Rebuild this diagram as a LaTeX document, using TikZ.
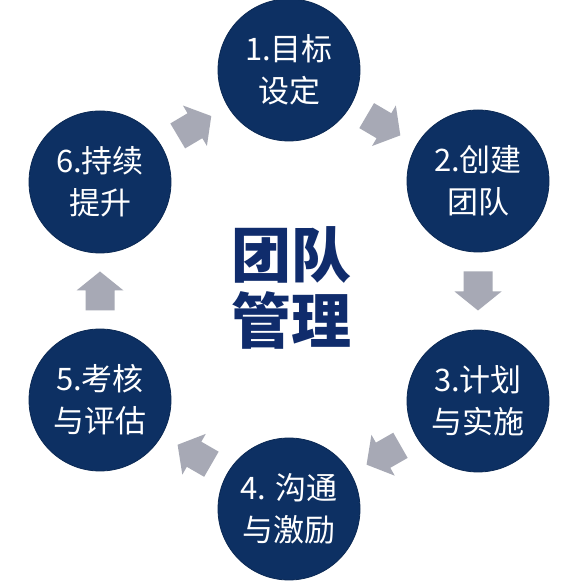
\documentclass[tikz,border=0pt]{standalone}
\usepackage{fontspec}
\usetikzlibrary{calc}
\newfontfamily\cjk{Noto Sans CJK SC}
\definecolor{navy}{RGB}{13,48,99}
\definecolor{titlenavy}{RGB}{16,44,108}
\definecolor{arrowgray}{RGB}{167,169,181}
\tikzset{
  stepcircle/.style={circle, fill=navy, draw=navy!85!black, line width=0.8pt,
    minimum size=142pt, inner sep=0pt, text=white, align=center,
    font=\cjk\fontsize{31}{42}\selectfont},
  titletext/.style={text=titlenavy, align=center, inner sep=0pt,
    font=\cjk\bfseries\fontsize{60}{66}\selectfont},
  blockarrow/.style={fill=arrowgray}
}
\newcommand\flowarrow[2]{%
  \fill[blockarrow] let \p1=($(#2)-(#1)$), \n1={atan2(\y1,\x1)}, \p2=($(#1)!0.5!(#2)$) in
    [shift={(\p2)}, rotate=\n1]
    (-19.5,-14.5) -- (0.5,-14.5) -- (0.5,-23.5) -- (19.5,0) -- (0.5,23.5) -- (0.5,14.5) -- (-19.5,14.5) -- cycle;%
}
\begin{document}
\begin{tikzpicture}[x=1pt,y=1pt]
  \useasboundingbox (0,0) rectangle (573,588);
  \fill[white] (0,0) rectangle (573,588);
  \node[stepcircle] (c1) at (289,518) {1.目标\\设定};
  \node[stepcircle] (c2) at (478,407) {2.创建\\团队};
  \node[stepcircle] (c3) at (478,187) {3.计划\\与实施};
  \node[stepcircle] (c4) at (289,79) {4. 沟通\\与激励};
  \node[stepcircle] (c5) at (100,188) {5.考核\\与评估};
  \node[stepcircle] (c6) at (100,406) {6.持续\\提升};
  \node[titletext] (title) at (291,300) {团队\\管理};
  \flowarrow{c1}{c2}
  \flowarrow{c2}{c3}
  \flowarrow{c3}{c4}
  \flowarrow{c4}{c5}
  \flowarrow{c5}{c6}
  \flowarrow{c6}{c1}
\end{tikzpicture}
\end{document}
